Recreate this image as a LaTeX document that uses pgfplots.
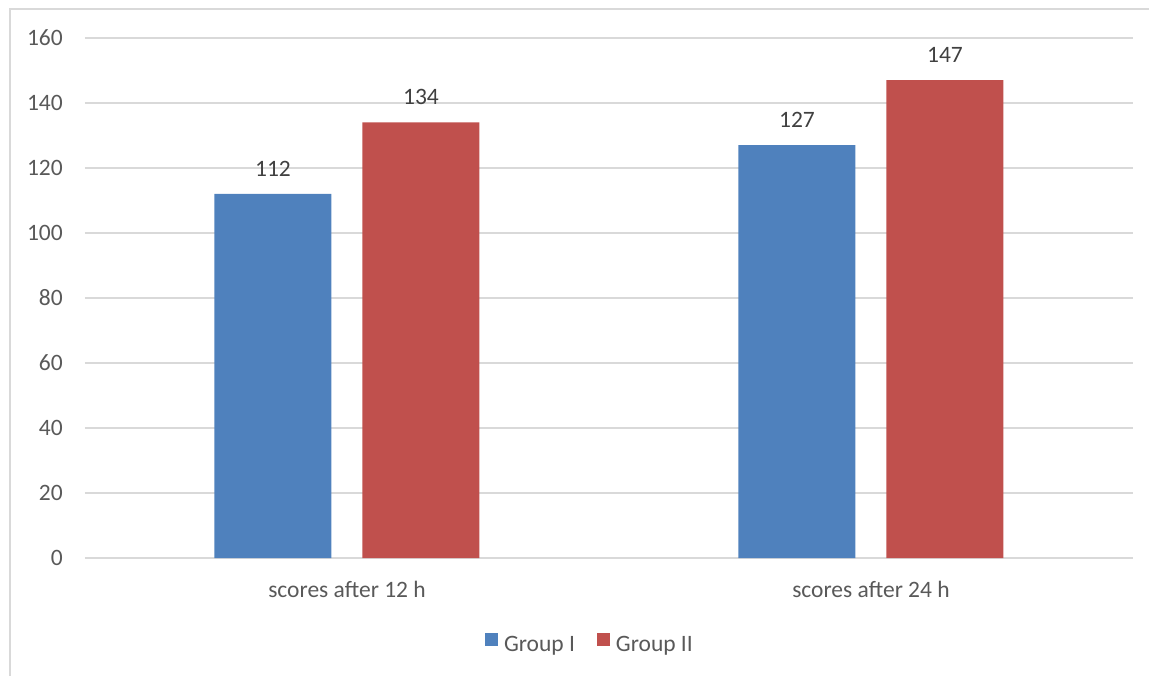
\documentclass[border=0pt]{standalone}
\usepackage{pgfplots}
\pgfplotsset{compat=1.18}
\usepackage{fontspec}
\setmainfont{Carlito}

\definecolor{axistext}{HTML}{595959}
\definecolor{valtext}{HTML}{404040}
\definecolor{gridgray}{HTML}{D9D9D9}
\definecolor{groupone}{HTML}{4F81BD}
\definecolor{grouptwo}{HTML}{C0504D}

\begin{document}
\fontsize{23.5}{28}\selectfont
\begin{tikzpicture}[x=1pt,y=1pt]
  \path[use as bounding box] (0,0) rectangle (1149,675);
  % chart frame (left and top edges)
  \draw[gridgray, line width=1.5pt] (10,-5) -- (10,666) -- (1160,666);

  \begin{axis}[
    at={(85pt,117pt)}, anchor=south west,
    scale only axis, width=1048pt, height=520pt,
    xmin=-0.5, xmax=1.5, ymin=0, ymax=160,
    ytick={0,20,...,160},
    xtick={0,1},
    xticklabels={scores after 12 h, scores after 24 h},
    /pgf/number format/assume math mode=true,
    major tick length=0pt,
    axis line style={draw=none},
    ymajorgrids, grid style={gridgray, line width=1.5pt},
    tick label style={text=axistext},
    yticklabel style={anchor=east, inner sep=0pt, xshift=-22pt},
    xticklabel style={anchor=base, inner sep=0pt, yshift=-39pt},
    ybar=31pt, bar width=117pt,
    nodes near coords,
    every node near coord/.append style={text=valtext, anchor=base, inner sep=0pt, yshift=17.5pt},
    legend columns=2,
    legend style={draw=none, fill=none, inner sep=0pt, outer sep=0pt,
      at={(0.3817,-0.1865)}, anchor=south west,
      nodes={inner sep=0pt, text=axistext},
      /tikz/every odd column/.style={column sep=6pt},
      /tikz/every even column/.style={column sep=22pt}},
    legend image code/.code={\fill[#1] (0pt,0pt) rectangle (13pt,13pt);},
  ]
    \addplot[fill=groupone, draw=none] coordinates {(0,112) (1,127)};
    \addplot[fill=grouptwo, draw=none] coordinates {(0,134) (1,147)};
    \legend{Group I, Group II}
  \end{axis}
\end{tikzpicture}
\end{document}
